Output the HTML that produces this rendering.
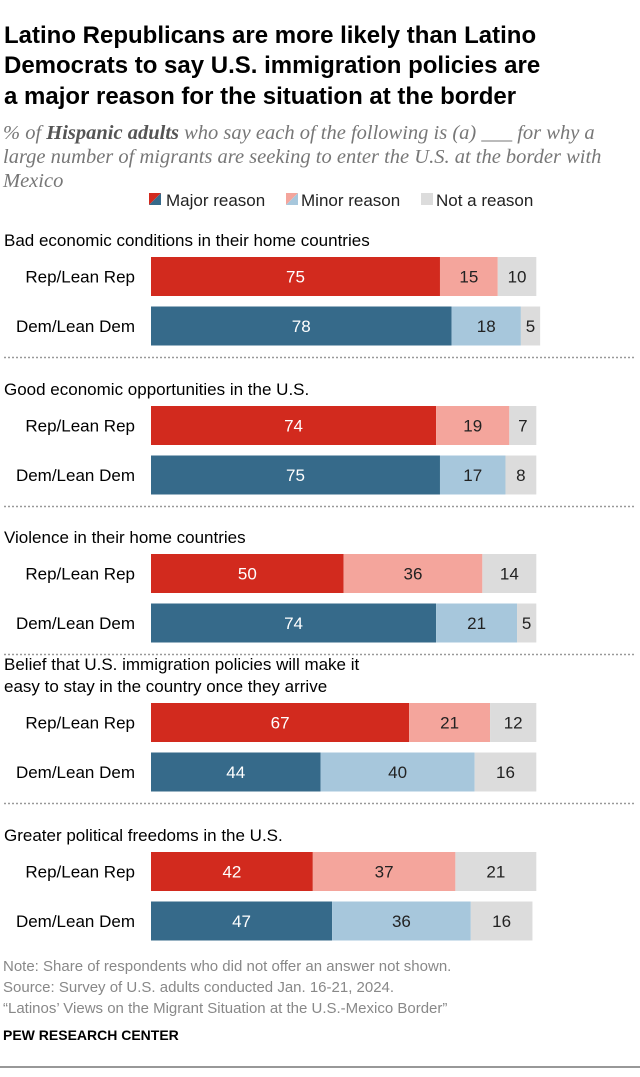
<!DOCTYPE html>
<html><head><meta charset="utf-8"><style>
body{margin:0;background:#fff;width:640px;height:1072px;overflow:hidden;font-family:"Liberation Sans",sans-serif;}
svg text{font-family:"Liberation Sans",sans-serif;}
</style></head><body>
<svg width="640" height="1072" xmlns="http://www.w3.org/2000/svg">
<g font-size="24" font-weight="bold" fill="#000">
<text x="4" y="43">Latino Republicans are more likely than Latino</text>
<text x="4" y="73">Democrats to say U.S. immigration policies are</text>
<text x="4" y="104">a major reason for the situation at the border</text>
</g>
<g font-size="20.5" font-style="italic" fill="#777">
<text x="3" y="139" style="font-family:'Liberation Serif',serif">% of <tspan font-weight="bold" fill="#555">Hispanic adults</tspan> who say each of the following is (a) ___ for why a</text>
<text x="3" y="163" style="font-family:'Liberation Serif',serif">large number of migrants are seeking to enter the U.S. at the border with</text>
<text x="3" y="187" style="font-family:'Liberation Serif',serif">Mexico</text>
</g>
<g font-size="17" fill="#222">
<polygon points="149,193 161,193 149,205" fill="#d22a1e"/><polygon points="161,193 161,205 149,205" fill="#366a8a"/>
<text x="166" y="206">Major reason</text>
<polygon points="286,193 298,193 286,205" fill="#f4a59c"/><polygon points="298,193 298,205 286,205" fill="#a7c7dc"/>
<text x="301" y="206">Minor reason</text>
<rect x="421" y="193" width="12" height="12" fill="#dcdcdc"/>
<text x="436" y="206">Not a reason</text>
</g>
<g id="bars"></g>
<g font-size="15" fill="#888">
<text x="3" y="971">Note: Share of respondents who did not offer an answer not shown.</text>
<text x="3" y="992">Source: Survey of U.S. adults conducted Jan. 16-21, 2024.</text>
<text x="3" y="1013">“Latinos’ Views on the Migrant Situation at the U.S.-Mexico Border”</text>
</g>
<text x="3" y="1040" font-size="14" font-weight="bold" fill="#000">PEW RESEARCH CENTER</text>
<line x1="0" y1="1067" x2="640" y2="1067" stroke="#777" stroke-width="1.5"/>
</svg>
<script>
const categories = [["Bad economic conditions in their home countries"],["Good economic opportunities in the U.S."],["Violence in their home countries"],["Belief that U.S. immigration policies will make it","easy to stay in the country once they arrive"],["Greater political freedoms in the U.S."]];
const groups = ["Rep/Lean Rep","Dem/Lean Dem"];
const major = [[75,78],[74,75],[50,74],[67,44],[42,47]];
const minor = [[15,18],[19,17],[36,21],[21,40],[37,36]];
const notReason = [[10,5],[7,8],[14,5],[12,16],[21,16]];
const ns="http://www.w3.org/2000/svg";
const g=document.getElementById('bars');
const x0=151, scale=3.853;
const xs=v=>v*scale;
const groupTop=[257,406,554,703,852];
const colors=[["#d22a1e","#f4a59c","#dcdcdc"],["#366a8a","#a7c7dc","#dcdcdc"]];
const txtCol=[["#fff","#222","#222"],["#fff","#222","#222"]];
function mk(tag,a){const e=document.createElementNS(ns,tag);for(const k in a)e.setAttribute(k,a[k]);g.appendChild(e);return e;}
categories.forEach((lines,i)=>{
  const top=groupTop[i];
  lines.forEach((l,j)=>{
    const t=mk('text',{x:4,y:top-11-(lines.length-1-j)*22,'font-size':17,fill:'#000'});
    
    
    t.textContent=l;
  });
  if(i>0){const sy=groupTop[i-1]+49.5+39+12;
    const ln=mk('line',{x1:4,x2:636,y1:sy,y2:sy,stroke:'#999','stroke-dasharray':'2,2','stroke-width':1.5});
    
    }
  groups.forEach((gr,k)=>{
    const y=top+k*49.5, h=39;
    const lb=mk('text',{x:135,y:y+h/2+6,'font-size':17,'text-anchor':'end',fill:'#000'});
    
    
    lb.textContent=gr;
    const vals=[major[i][k],minor[i][k],notReason[i][k]];
    let cx=x0;
    vals.forEach((v,s)=>{
      const w=xs(v);
      const r=mk('rect',{x:cx,y:y,width:w,height:h,fill:colors[k][s]});
      
      
      const t=mk('text',{x:cx+w/2,y:y+h/2+6,'font-size':17,'text-anchor':'middle',fill:txtCol[k][s]});
      
      
      t.textContent=v;
      cx+=w;
    });
  });
});
</script>
</body></html>
